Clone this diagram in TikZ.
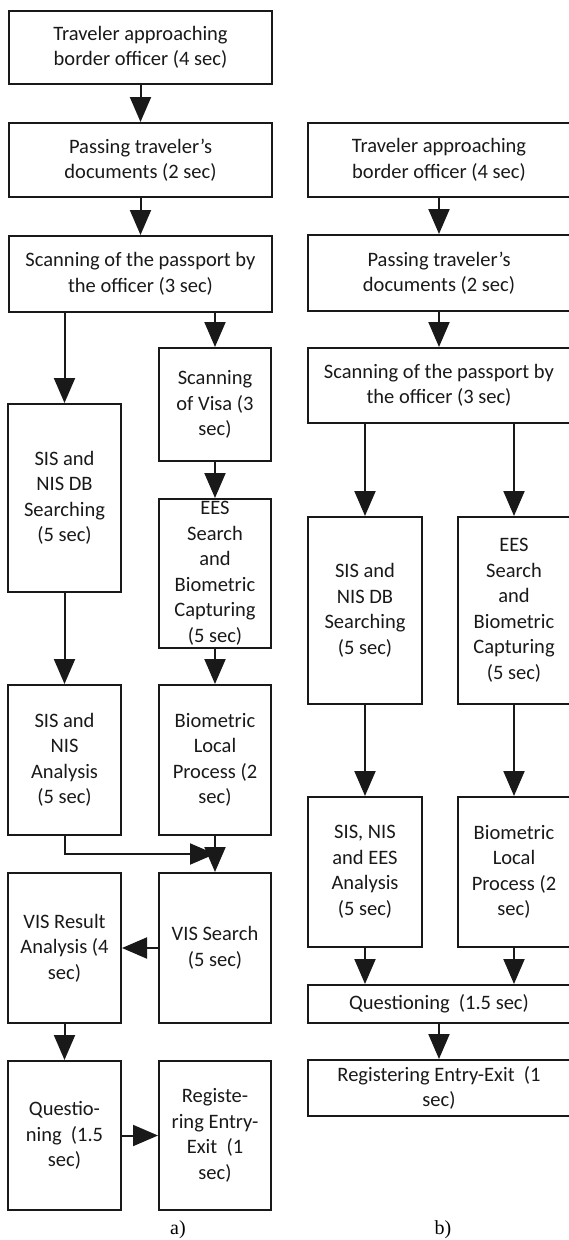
\documentclass[tikz,border=0pt]{standalone}
\usepackage{fontspec}
\setmainfont{Carlito}
\newfontfamily\capfont{Liberation Serif}
\usetikzlibrary{arrows.meta}
\begin{document}
\begin{tikzpicture}[x=1pt,y=-1pt,
  box/.style={draw=black!90, line width=2pt, align=center, inner sep=0pt,
    text=black!90, font=\fontsize{20.5}{25.5}\selectfont},
  wide/.style={box, minimum width=263pt},
  narrow/.style={box, minimum width=113pt},
  flow/.style={draw=black!90, line width=2pt,
    -{Triangle[width=21pt,length=25pt]}},
  caption/.style={font=\capfont\fontsize{20}{22}\selectfont}]
\useasboundingbox (0,0) rectangle (569,1240);

% ---------------- a) ----------------
\node[wide, minimum height=73pt] (A1) at (140.5,47.5)
  {Traveler approaching\\border officer (4 sec)};
\node[wide, minimum height=74pt] (A2) at (140.5,160)
  {Passing traveler’s\\documents (2 sec)};
\node[wide, minimum height=76pt] (A3) at (140.5,274)
  {Scanning of the passport by\\the officer (3 sec)};
\node[narrow, minimum width=112pt, minimum height=113pt] (A4) at (215,404.5)
  {Scanning\\of Visa (3\\sec)};
\node[narrow, minimum height=188pt] (A5) at (64.5,498)
  {SIS and\\NIS DB\\Searching\\(5 sec)};
\node[narrow, minimum width=112pt, minimum height=149pt] (A6) at (215,573.5)
  {EES\\Search\\and\\Biometric\\Capturing\\(5 sec)};
\node[narrow, minimum height=150pt] (A7) at (64.5,760)
  {SIS and\\NIS\\Analysis\\(5 sec)};
\node[narrow, minimum width=112pt, minimum height=150pt] (A8) at (215,760)
  {Biometric\\Local\\Process (2\\sec)};
\node[narrow, minimum height=150pt] (A9) at (64.5,948)
  {VIS Result\\Analysis (4\\sec)};
\node[narrow, minimum width=112pt, minimum height=150pt] (A10) at (215,948)
  {VIS Search\\(5 sec)};
\node[narrow, minimum height=149pt] (A11) at (64.5,1135.5)
  {Questio-\\ning~ (1.5\\sec)};
\node[narrow, minimum width=112pt, minimum height=149pt] (A12) at (215,1135.5)
  {Registe-\\ring Entry-\\Exit~ (1\\sec)};
\coordinate (J) at (215,854);

\draw[flow] (A1) -- (A2);
\draw[flow] (A2) -- (A3);
\draw[flow] (A3.south -| A5.north) -- (A5.north);
\draw[flow] (A3.south -| A4.north) -- (A4.north);
\draw[flow] (A4) -- (A6);
\draw[flow] (A5) -- (A7);
\draw[flow] (A6) -- (A8);
\draw[flow] (A7.south) |- (J);
\draw[flow] (A8) -- (A10);
\draw[flow] (A10) -- (A9);
\draw[flow] (A9) -- (A11);
\draw[flow] (A11) -- (A12);

\node[caption] (capA) at (178,1230) {a)};

% ---------------- b) ----------------
\node[wide, minimum width=262pt, minimum height=74pt] (B1) at (439,160)
  {Traveler approaching\\border officer (4 sec)};
\node[wide, minimum width=262pt, minimum height=76pt] (B2) at (439,273)
  {Passing traveler’s\\documents (2 sec)};
\node[wide, minimum width=262pt, minimum height=75pt] (B3) at (439,385.5)
  {Scanning of the passport by\\the officer (3 sec)};
\node[narrow, minimum width=114pt, minimum height=187pt] (B4) at (365,610.5)
  {SIS and\\NIS DB\\Searching\\(5 sec)};
\node[narrow, minimum width=112pt, minimum height=187pt] (B5) at (514,610.5)
  {EES\\Search\\and\\Biometric\\Capturing\\(5 sec)};
\node[narrow, minimum width=114pt, minimum height=150pt] (B6) at (365,872)
  {SIS, NIS\\and EES\\Analysis\\(5 sec)};
\node[narrow, minimum width=112pt, minimum height=150pt] (B7) at (514,872)
  {Biometric\\Local\\Process (2\\sec)};
\node[wide, minimum width=262pt, minimum height=38pt] (B8) at (439,1004)
  {Questioning~ (1.5 sec)};
\node[wide, minimum width=262pt, minimum height=56pt] (B9) at (439,1088)
  {Registering Entry-Exit~ (1\\sec)};

\draw[flow] (B1) -- (B2);
\draw[flow] (B2) -- (B3);
\draw[flow] (B3.south -| B4.north) -- (B4.north);
\draw[flow] (B3.south -| B5.north) -- (B5.north);
\draw[flow] (B4) -- (B6);
\draw[flow] (B5) -- (B7);
\draw[flow] (B6.south) -- (B6.south |- B8.north);
\draw[flow] (B7.south) -- (B7.south |- B8.north);
\draw[flow] (B8) -- (B9);

\node[caption] (capB) at (443,1230) {b)};
\end{tikzpicture}
\end{document}
